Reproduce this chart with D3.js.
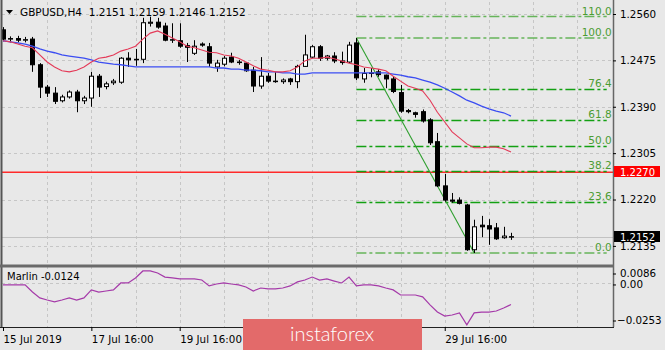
<!DOCTYPE html>
<html>
<head>
<meta charset="utf-8">
<script src="https://cdn.jsdelivr.net/npm/d3@7"></script>
<style>
    body { margin: 0; background: #e8e8e8; }
    svg { display: block; font-family: 'DejaVu Sans', sans-serif; }
</style>
</head>
<body>
<script>
const open = [1.2531, 1.2514, 1.2515, 1.2512, 1.2514, 1.2467, 1.2426, 1.2415, 1.2401, 1.2408,
    1.2417, 1.2401, 1.2406, 1.2446, 1.2427, 1.2434, 1.2435, 1.2479, 1.2476, 1.2477,
    1.2543, 1.2545, 1.2538, 1.2512, 1.2511, 1.2502, 1.2488, 1.2505, 1.2500, 1.2463,
    1.2468, 1.2481, 1.2472, 1.2470, 1.2457, 1.2428, 1.2446, 1.2437, 1.2436, 1.2441,
    1.2436, 1.2464, 1.2481, 1.2500, 1.2479, 1.2483, 1.2474, 1.2472, 1.2507, 1.2441,
    1.2451, 1.2454, 1.2448, 1.2441, 1.2416, 1.2383, 1.2379, 1.2381, 1.2366, 1.2326,
    1.2245, 1.2219, 1.2219, 1.2210, 1.2128, 1.2173, 1.2172, 1.2168, 1.2150, 1.2151];
const high = [1.2536, 1.2519, 1.2520, 1.2518, 1.2518, 1.2470, 1.2430, 1.2426, 1.2412, 1.2420,
    1.2421, 1.2410, 1.2454, 1.2450, 1.2436, 1.2441, 1.2481, 1.2490, 1.2496, 1.2553,
    1.2555, 1.2553, 1.2544, 1.2543, 1.2543, 1.2507, 1.2512, 1.2508, 1.2507, 1.2476,
    1.2483, 1.2489, 1.2476, 1.2472, 1.2463, 1.2481, 1.2452, 1.2454, 1.2442, 1.2443,
    1.2467, 1.2522, 1.2503, 1.2503, 1.2485, 1.2490, 1.2491, 1.2509, 1.2516, 1.2461,
    1.2461, 1.2459, 1.2449, 1.2446, 1.2430, 1.2386, 1.2381, 1.2385, 1.2369, 1.2342,
    1.2267, 1.2232, 1.2224, 1.2212, 1.2183, 1.2190, 1.2184, 1.2177, 1.2170, 1.2159];
const low = [1.2510, 1.2508, 1.2508, 1.2508, 1.2454, 1.2406, 1.2408, 1.2395, 1.2398, 1.2405,
    1.2380, 1.2395, 1.2390, 1.2408, 1.2422, 1.2430, 1.2432, 1.2463, 1.2465, 1.2470,
    1.2537, 1.2533, 1.2510, 1.2507, 1.2498, 1.2472, 1.2485, 1.2500, 1.2463, 1.2454,
    1.2464, 1.2470, 1.2467, 1.2454, 1.2417, 1.2423, 1.2434, 1.2434, 1.2432, 1.2430,
    1.2424, 1.2463, 1.2479, 1.2474, 1.2475, 1.2470, 1.2467, 1.2470, 1.2439, 1.2434,
    1.2444, 1.2445, 1.2424, 1.2415, 1.2379, 1.2378, 1.2370, 1.2361, 1.2320, 1.2243,
    1.2216, 1.2214, 1.2211, 1.2126, 1.2122, 1.2151, 1.2137, 1.2146, 1.2148, 1.2146];
const close = [1.2514, 1.2515, 1.2512, 1.2513, 1.2467, 1.2426, 1.2415, 1.2400, 1.2408, 1.2417,
    1.2401, 1.2406, 1.2446, 1.2426, 1.2432, 1.2437, 1.2479, 1.2476, 1.2477, 1.2544,
    1.2545, 1.2536, 1.2512, 1.2513, 1.2501, 1.2499, 1.2501, 1.2503, 1.2470, 1.2470,
    1.2479, 1.2472, 1.2471, 1.2456, 1.2428, 1.2446, 1.2437, 1.2436, 1.2439, 1.2436,
    1.2464, 1.2485, 1.2500, 1.2479, 1.2483, 1.2474, 1.2471, 1.2503, 1.2443, 1.2451,
    1.2452, 1.2449, 1.2441, 1.2418, 1.2382, 1.2381, 1.2376, 1.2364, 1.2324, 1.2245,
    1.2219, 1.2217, 1.2213, 1.2128, 1.2170, 1.2170, 1.2166, 1.2148, 1.2153, 1.2152];

const maFast = [1.2511, 1.2509, 1.2505, 1.2501, 1.2498, 1.2485, 1.2472, 1.2463, 1.2456, 1.2454,
    1.2457, 1.2463, 1.2472, 1.2479, 1.2481, 1.2485, 1.2492, 1.2496, 1.2501, 1.2514,
    1.2525, 1.2529, 1.2523, 1.2516, 1.2509, 1.2501, 1.2498, 1.2494, 1.2490, 1.2489,
    1.2485, 1.2483, 1.2479, 1.2472, 1.2465, 1.2459, 1.2457, 1.2454, 1.2454, 1.2456,
    1.2463, 1.2474, 1.2479, 1.2479, 1.2481, 1.2478, 1.2474, 1.2470, 1.2467, 1.2463,
    1.2461, 1.2459, 1.2456, 1.2446, 1.2437, 1.2428, 1.2424, 1.2419, 1.2402, 1.2380,
    1.2362, 1.2344, 1.2333, 1.2322, 1.2315, 1.2315, 1.2316, 1.2316, 1.2313, 1.2307];
const maSlow = [1.2511, 1.2509, 1.2507, 1.2505, 1.2501, 1.2496, 1.2492, 1.2489, 1.2485, 1.2483,
    1.2481, 1.2479, 1.2476, 1.2472, 1.2470, 1.2468, 1.2467, 1.2465, 1.2463, 1.2463,
    1.2463, 1.2463, 1.2463, 1.2463, 1.2463, 1.2463, 1.2463, 1.2463, 1.2463, 1.2461,
    1.2461, 1.2459, 1.2459, 1.2457, 1.2457, 1.2456, 1.2454, 1.2454, 1.2452, 1.2452,
    1.2450, 1.2450, 1.2452, 1.2452, 1.2452, 1.2452, 1.2452, 1.2452, 1.2452, 1.2452,
    1.2452, 1.2452, 1.2452, 1.2450, 1.2448, 1.2445, 1.2443, 1.2439, 1.2435, 1.2430,
    1.2424, 1.2417, 1.2410, 1.2402, 1.2397, 1.2391, 1.2386, 1.2382, 1.2379, 1.2373];
const marlin = [-0.0011, -0.0011, -0.0011, -0.0011, -0.0052, -0.0086, -0.0098, -0.0109, -0.0098, -0.0086,
    -0.0098, -0.0086, -0.0040, -0.0052, -0.0046, -0.0040, 0.0000, 0.0000, 0.0029, 0.0069,
    0.0069, 0.0057, 0.0034, 0.0029, 0.0023, 0.0023, 0.0023, 0.0017, -0.0017, -0.0006,
    0.0000, -0.0006, -0.0011, -0.0023, -0.0046, -0.0029, -0.0034, -0.0034, -0.0029, -0.0017,
    0.0006, 0.0017, 0.0034, 0.0017, 0.0023, 0.0011, 0.0000, 0.0034, -0.0017, -0.0011,
    -0.0011, -0.0017, -0.0029, -0.0040, -0.0069, -0.0069, -0.0069, -0.0080, -0.0126, -0.0167,
    -0.0190, -0.0184, -0.0172, -0.0241, -0.0172, -0.0167, -0.0167, -0.0161, -0.0144, -0.0124];

const priceTicks = [1.2560, 1.2475, 1.2390, 1.2305, 1.2220, 1.2135];
const marlinTicks = [0.0086, 0, -0.0253];
const dateBars = [0, 12, 24, 60];
const dateLabels = ['15 Jul 2019', '17 Jul 16:00', '19 Jul 16:00', '29 Jul 16:00'];
const fibLevels = [0, 23.6, 38.2, 50, 61.8, 76.4, 100, 110];
const trendPoints = [{ bar: 48, price: 1.2516 }, { bar: 64, price: 1.2122 }];
const fibEndBar = 82;
const levelPrice = 1.2270;
const lastPrice = 1.2152;

const config = {
    width: 665,
    height: 350,
    left: 2,
    right: 613,
    mainTop: 2,
    mainBottom: 265,
    subTop: 268,
    subBottom: 327,
    bodyWidth: 4,
};

const svg = d3.select('body')
    .append('svg')
    .attr('width', config.width)
    .attr('height', config.height);

svg.append('rect')
    .attr('width', config.width)
    .attr('height', config.height)
    .attr('fill', '#e8e8e8');

const x = d3.scaleLinear().domain([0, 69]).range([3, 511]);
const y = d3.scaleLinear().domain([1.2100, 1.2582]).range([config.mainBottom, config.mainTop]);
const m = d3.scaleLinear().domain([-0.0253, 0.0086]).range([config.subBottom, config.subTop]);
const px = v => Math.round(v) + 0.5;

// grid
const grid = svg.append('g')
    .attr('stroke', '#c6c6c6')
    .attr('stroke-dasharray', '3,3');

grid.selectAll('line.v')
    .data(d3.range(6, 79, 6)).enter()
    .append('line')
        .attr('x1', d => px(x(d)))
        .attr('x2', d => px(x(d)))
        .attr('y1', config.mainTop)
        .attr('y2', config.subBottom);

grid.selectAll('line.h')
    .data(priceTicks).enter()
    .append('line')
        .attr('x1', config.left)
        .attr('x2', config.right)
        .attr('y1', d => px(y(d)))
        .attr('y2', d => px(y(d)));

grid.append('line')
    .attr('x1', config.left)
    .attr('x2', config.right)
    .attr('y1', px(m(0)))
    .attr('y2', px(m(0)));

// last price + level
svg.append('line')
    .attr('x1', config.left).attr('x2', config.right)
    .attr('y1', px(y(lastPrice))).attr('y2', px(y(lastPrice)))
    .attr('stroke', '#c2c2c2');

svg.append('line')
    .attr('x1', config.left).attr('x2', config.right)
    .attr('y1', y(levelPrice)).attr('y2', y(levelPrice))
    .attr('stroke', '#ff2a2a')
    .attr('stroke-width', 1.4);

// fibonacci
const fibHigh = trendPoints[0].price;
const fibLow = trendPoints[1].price;
const fibPrice = lv => fibLow + (fibHigh - fibLow) * lv / 100;
const fibLight = lv => lv === 0 || lv >= 100;

const fib = svg.append('g');
fib.selectAll('line')
    .data(fibLevels).enter()
    .append('line')
        .attr('x1', x(trendPoints[0].bar))
        .attr('x2', x(fibEndBar))
        .attr('y1', d => fibLight(d) ? y(fibPrice(d)) : px(y(fibPrice(d))))
        .attr('y2', d => fibLight(d) ? y(fibPrice(d)) : px(y(fibPrice(d))))
        .attr('stroke', d => fibLight(d) ? '#66b45a' : '#13a013')
        .attr('stroke-width', d => fibLight(d) ? 1.6 : 1.3)
        .attr('stroke-dasharray', '10,3,3,3');

fib.selectAll('text')
    .data(fibLevels).enter()
    .append('text')
        .attr('x', x(fibEndBar) + 5)
        .attr('y', d => y(fibPrice(d)) - 2)
        .attr('text-anchor', 'end')
        .attr('font-size', 10.5)
        .attr('fill', '#4c9c32')
        .text(d => d.toFixed(1));

svg.append('line')
    .attr('x1', x(trendPoints[0].bar)).attr('y1', y(trendPoints[0].price))
    .attr('x2', x(trendPoints[1].bar)).attr('y2', y(trendPoints[1].price))
    .attr('stroke', '#2f9f2f')
    .attr('stroke-width', 1.1);

// candles
const candles = open.map((o, i) => ({ i, o, h: high[i], l: low[i], c: close[i] }));

const candle = svg.append('g')
    .selectAll('g')
    .data(candles).enter()
    .append('g');

candle.append('line')
    .attr('x1', d => px(x(d.i)))
    .attr('x2', d => px(x(d.i)))
    .attr('y1', d => y(d.h))
    .attr('y2', d => y(d.l))
    .attr('stroke', '#000');

candle.append('rect')
    .attr('x', d => px(x(d.i)) - config.bodyWidth / 2)
    .attr('width', config.bodyWidth)
    .attr('y', d => y(Math.max(d.o, d.c)))
    .attr('height', d => Math.max(0.5, Math.abs(y(d.o) - y(d.c))))
    .attr('fill', d => d.c >= d.o ? '#fff' : '#000')
    .attr('stroke', '#000');

// moving averages
const priceLine = d3.line().x((d, i) => x(i)).y(d => y(d));

svg.append('path')
    .attr('d', priceLine(maSlow))
    .attr('fill', 'none')
    .attr('stroke', '#3b4df2')
    .attr('stroke-width', 1.3);

svg.append('path')
    .attr('d', priceLine(maFast))
    .attr('fill', 'none')
    .attr('stroke', '#e43a58')
    .attr('stroke-width', 1.1);

// marlin
svg.append('path')
    .attr('d', d3.line().x((d, i) => x(i)).y(d => m(d))(marlin))
    .attr('fill', 'none')
    .attr('stroke', '#a53aa9')
    .attr('stroke-width', 1.2);

// frames
const frame = svg.append('g').attr('fill', 'none');
frame.append('line')
    .attr('x1', 1.5).attr('x2', 1.5).attr('y1', 0).attr('y2', config.subBottom)
    .attr('stroke', '#555').attr('stroke-width', 2);
frame.append('line')
    .attr('x1', config.right + 0.5).attr('x2', config.right + 0.5).attr('y1', 0).attr('y2', config.subBottom)
    .attr('stroke', '#666').attr('stroke-width', 1.5);
frame.append('line')
    .attr('x1', 0).attr('x2', config.right + 1).attr('y1', 266).attr('y2', 266)
    .attr('stroke', '#6a6a6a').attr('stroke-width', 3);
frame.append('line')
    .attr('x1', 0).attr('x2', config.right + 1).attr('y1', config.subBottom + 0.5).attr('y2', config.subBottom + 0.5)
    .attr('stroke', '#222');

// axes
const styleAxis = g => g
    .call(s => s.select('.domain').remove())
    .call(s => s.selectAll('line').attr('stroke', '#000'))
    .call(s => s.selectAll('text')
        .attr('fill', '#000')
        .attr('font-size', 10.3)
        .attr('font-family', "'DejaVu Sans', sans-serif"));

svg.append('g')
    .attr('transform', `translate(${config.right},0)`)
    .call(d3.axisRight(y).tickValues(priceTicks).tickSize(3).tickPadding(4).tickFormat(d3.format('.4f')))
    .call(styleAxis);

const marlinAxis = svg.append('g')
    .attr('transform', `translate(${config.right},0)`)
    .call(d3.axisRight(m).tickValues(marlinTicks).tickSize(3).tickPadding(4)
        .tickFormat(d => d === 0 ? '0.00' : d3.format('.4f')(d)))
    .call(styleAxis);

marlinAxis.selectAll('.tick')
    .attr('transform', d => `translate(0,${Math.min(Math.max(m(d), config.subTop + 6), config.subBottom - 6) + (d === 0 ? 2 : 0)})`)
    .select('text')
        .attr('dx', d => d < 0 ? -3 : 0);

svg.append('g')
    .attr('transform', `translate(0,${config.subBottom})`)
    .call(d3.axisBottom(x).tickValues(dateBars).tickSize(4).tickPadding(5).tickFormat((d, i) => dateLabels[i]))
    .call(styleAxis)
    .selectAll('text')
        .attr('text-anchor', 'start');

// price tags
const tags = [
    { price: levelPrice, fill: '#ff0000' },
    { price: lastPrice, fill: '#000' },
];
const tag = svg.append('g')
    .selectAll('g')
    .data(tags).enter()
    .append('g')
        .attr('transform', d => `translate(${config.right + 1},${Math.round(y(d.price))})`);

tag.append('rect')
    .attr('x', 0).attr('y', -6)
    .attr('width', 46).attr('height', 11)
    .attr('fill', d => d.fill);

tag.append('text')
    .attr('x', 6).attr('y', 3.5)
    .attr('font-size', 10)
    .attr('fill', '#fff')
    .text(d => d3.format('.4f')(d.price));

// titles
svg.append('path')
    .attr('d', 'M6,10 L13,10 L9.5,14 Z')
    .attr('fill', '#000');

svg.append('text')
    .attr('x', 20).attr('y', 16)
    .attr('font-size', 10.5)
    .attr('fill', '#000')
    .style('white-space', 'pre')
    .text('GBPUSD,H4  1.2151 1.2159 1.2146 1.2152');

svg.append('text')
    .attr('x', 7).attr('y', 280)
    .attr('font-size', 10)
    .attr('fill', '#000')
    .text('Marlin -0.0124');

// watermark
svg.append('rect')
    .attr('x', 243).attr('y', 319)
    .attr('width', 179).attr('height', 31)
    .attr('fill', '#e36a6a');

svg.append('text')
    .attr('x', 290).attr('y', 341)
    .attr('font-family', 'Lato, sans-serif')
    .attr('font-weight', 300)
    .attr('font-size', 20)
    .attr('fill', '#fff')
    .text('instaforex');
</script>
</body>
</html>
